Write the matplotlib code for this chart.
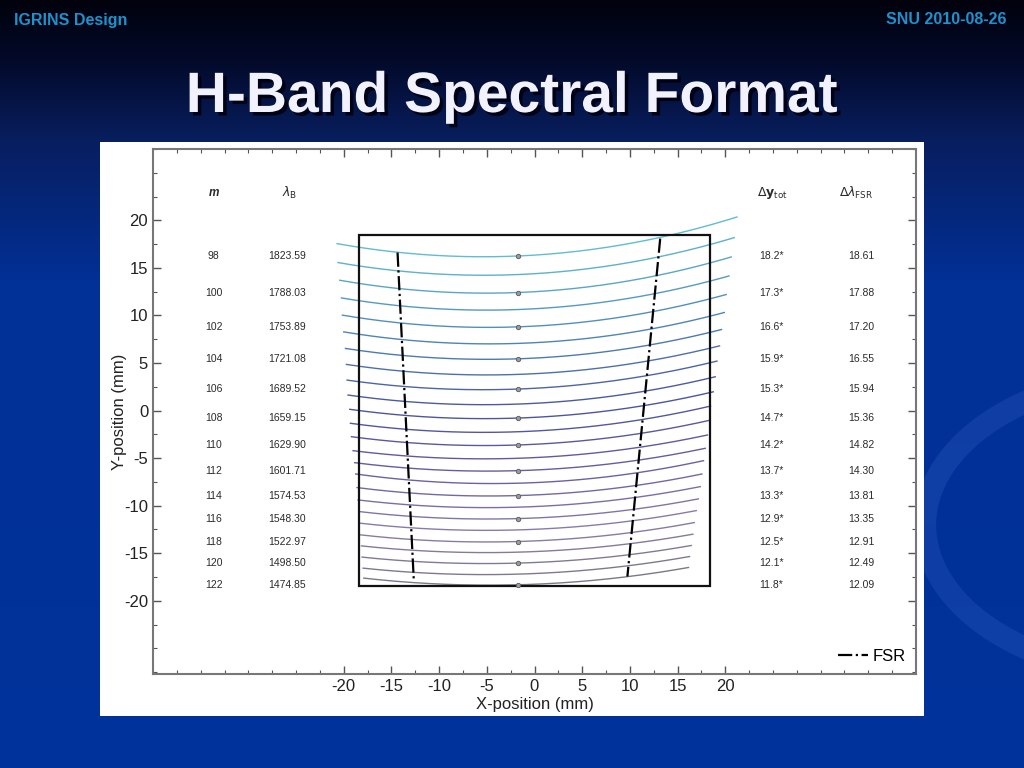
import numpy as np
import matplotlib
matplotlib.use('Agg')
import matplotlib.pyplot as plt
from matplotlib.patches import Rectangle, Arc
from matplotlib.colors import LinearSegmentedColormap
import matplotlib.patheffects as pe

plt.rcParams['font.family'] = ['Liberation Sans', 'DejaVu Sans']
plt.rcParams['axes.unicode_minus'] = False

# echelle orders 98..122 on the detector (mm)
orders = list(range(98, 123))
x_center = -1.73
y_center = [16.25, 14.30, 12.41, 10.62, 8.80, 7.06, 5.44, 3.80, 2.26, 0.68,
            -0.79, -2.23, -3.62, -5.02, -6.32, -7.64, -8.94, -10.16, -11.36,
            -12.55, -13.77, -14.89, -16.04, -17.20, -18.32]
x_left = [-20.70, -20.60, -20.42, -20.24, -20.14, -20.00, -19.82, -19.72, -19.65,
          -19.55, -19.37, -19.30, -19.19, -19.02, -18.85, -18.74, -18.60, -18.50,
          -18.39, -18.32, -18.25, -18.14, -18.08, -17.97, -17.90]
y_left = [17.55, 15.56, 13.70, 11.84, 10.03, 8.27, 6.53, 4.85, 3.20, 1.63,
          0.13, -1.34, -2.75, -4.22, -5.48, -6.67, -8.10, -9.40, -10.62,
          -11.84, -13.07, -14.23, -15.41, -16.57, -17.62]
x_right = [21.23, 20.94, 20.63, 20.39, 20.10, 19.90, 19.61, 19.40, 19.13, 18.95,
           18.74, 18.46, 18.25, 18.14, 17.90, 17.72, 17.55, 17.38, 17.17, 16.96,
           16.75, 16.61, 16.43, 16.25, 16.15]
y_right = [20.35, 18.18, 16.15, 14.15, 12.20, 10.31, 8.52, 6.80, 5.20, 3.55,
           1.97, 0.47, -1.05, -2.57, -3.97, -5.27, -6.67, -8.00, -9.29, -10.52,
           -11.78, -13.00, -14.19, -15.35, -16.50]

# table printed for every second order
m_labels = ['98', '100', '102', '104', '106', '108', '110', '112', '114', '116', '118', '120', '122']
lambda_blaze = ['1823.59', '1788.03', '1753.89', '1721.08', '1689.52', '1659.15', '1629.90',
                '1601.71', '1574.53', '1548.30', '1522.97', '1498.50', '1474.85']
dy_tot = ['18.2', '17.3', '16.6', '15.9', '15.3', '14.7', '14.2', '13.7', '13.3', '12.9',
          '12.5', '12.1', '11.8']
dlambda_fsr = ['18.61', '17.88', '17.20', '16.55', '15.94', '15.36', '14.82', '14.30',
               '13.81', '13.35', '12.91', '12.49', '12.09']

detector_half = 18.43

# free spectral range limits (top / bottom end points)
fsr_left_x = [-14.36, -12.65]
fsr_left_y = [16.61, -17.97]
fsr_right_x = [13.18, 9.74]
fsr_right_y = [18.08, -17.45]

W, H = 1024, 768
fig = plt.figure(figsize=(10.24, 7.68), dpi=100)

# slide background
bg = fig.add_axes([0, 0, 1, 1])
stops = [0, 60, 140, 280, 768]
cols = np.array([[1, 2, 12], [3, 10, 42], [8, 30, 95], [2, 48, 150], [0, 51, 156]]) / 255.0
yy = np.arange(H)
grad = np.stack([np.interp(yy, stops, cols[:, k]) for k in range(3)], axis=1)
bg.imshow(grad[:, None, :], extent=[0, W, H, 0], aspect='auto')
bg.add_patch(Arc((1160, 525), 470, 300, theta1=90, theta2=270, lw=16,
                 color='#2a58bd', alpha=0.35))
bg.add_patch(Rectangle((100, 142), 824, 574, facecolor='white', edgecolor='none', zorder=5))
bg.set_xlim(0, W)
bg.set_ylim(H, 0)
bg.axis('off')

fig.text(14 / W, 1 - 20 / H, 'IGRINS Design', color='#1f92cc', fontsize=11.5,
         fontweight='bold', ha='left', va='center')
fig.text(1007 / W, 1 - 20 / H, 'SNU 2010-08-26', color='#1f92cc', fontsize=11.5,
         fontweight='bold', ha='right', va='center')
fig.text(0.5, 1 - 97 / H, 'H-Band Spectral Format', color='#f2f2ff', fontsize=41,
         fontweight='bold', ha='center', va='center',
         path_effects=[pe.withSimplePatchShadow(offset=(2.5, -2.5), shadow_rgbFace='#000010', alpha=0.9)])

# main plot
ax = fig.add_axes([153 / W, 1 - 674 / H, (916 - 153) / W, (674 - 149) / H])
ax.set_facecolor('white')

cmap = LinearSegmentedColormap.from_list(
    'orders', ['#62bcd0', '#4f86b8', '#4a559c', '#6a5d9f', '#8a7ca8', '#7c7888'])
n = len(orders)
for i, m in enumerate(orders):
    coef = np.polyfit([x_left[i], x_center, x_right[i]], [y_left[i], y_center[i], y_right[i]], 2)
    xs = np.linspace(x_left[i], x_right[i], 200)
    ax.plot(xs, np.polyval(coef, xs), color=cmap(i / (n - 1)), lw=1.0, zorder=2)

ax.plot([x_center] * len(m_labels), y_center[::2], 'o', ms=3.2, mfc='#9a9a9a',
        mec='#5a5a5a', mew=0.6, zorder=4)

ax.add_patch(Rectangle((-detector_half, -detector_half), 2 * detector_half, 2 * detector_half,
                       fill=False, ec='#111111', lw=1.6, zorder=3))

ax.plot(fsr_left_x, fsr_left_y, color='black', ls='-.', lw=1.6, label='FSR', zorder=5)
ax.plot(fsr_right_x, fsr_right_y, color='black', ls='-.', lw=1.6, zorder=5)

# table
tc = '#2a2a2a'
row_y = y_center[::2]
for k in range(len(m_labels)):
    ax.text(-33.65, row_y[k], m_labels[k], ha='center', va='center', fontsize=7.5, color=tc)
    ax.text(-25.93, row_y[k], lambda_blaze[k], ha='center', va='center', fontsize=7.5, color=tc)
    ax.text(23.6, row_y[k], dy_tot[k] + '*', ha='left', va='center', fontsize=7.5, color=tc)
    ax.text(34.28, row_y[k], dlambda_fsr[k], ha='center', va='center', fontsize=7.5, color=tc)

head_y = 22.9
ax.text(-33.65, head_y, 'm', ha='center', va='center', fontsize=8.5, color=tc,
        fontweight='bold', fontstyle='italic')
ax.text(-25.7, head_y, r'$\lambda_{\mathrm{B}}$', ha='center', va='center', fontsize=9, color=tc)
ax.text(24.9, head_y, r'$\mathit{\Delta}\mathbf{y}_{\mathrm{tot}}$', ha='center', va='center',
        fontsize=9, color=tc)
ax.text(33.7, head_y, r'$\Delta\lambda_{\mathrm{FSR}}$', ha='center', va='center',
        fontsize=9, color=tc)

ax.set_xlim(-40, 40)
ax.set_ylim(-27.7, 27.45)
ax.set_xticks(np.arange(-20, 21, 5))
ax.set_yticks(np.arange(-20, 21, 5))
ax.set_xticks([v for v in np.arange(-37.5, 38, 2.5) if v % 5 != 0 or abs(v) > 20], minor=True)
ax.set_yticks([v for v in np.arange(-27.5, 27.6, 2.5) if v % 5 != 0 or abs(v) > 20], minor=True)
ax.tick_params(which='both', direction='in', top=True, right=True, color='#555555')
ax.tick_params(which='major', length=6, width=1.0, labelsize=12, pad=3.5, labelcolor='#222222')
ax.tick_params(which='minor', length=3, width=0.8)
for s in ax.spines.values():
    s.set_color('#777777')
    s.set_linewidth(1.5)

ax.set_xlabel('X-position (mm)', fontsize=12, color='#222222')
ax.set_ylabel('Y-position (mm)', fontsize=12, color='#222222')
ax.xaxis.set_label_coords(0.5, -0.043)
ax.yaxis.set_label_coords(-0.034, 0.5)

ax.legend(loc='lower right', frameon=False, fontsize=12, handlelength=1.8,
          handletextpad=0.3, borderaxespad=0.2)

fig.savefig('out.png', dpi=100)
